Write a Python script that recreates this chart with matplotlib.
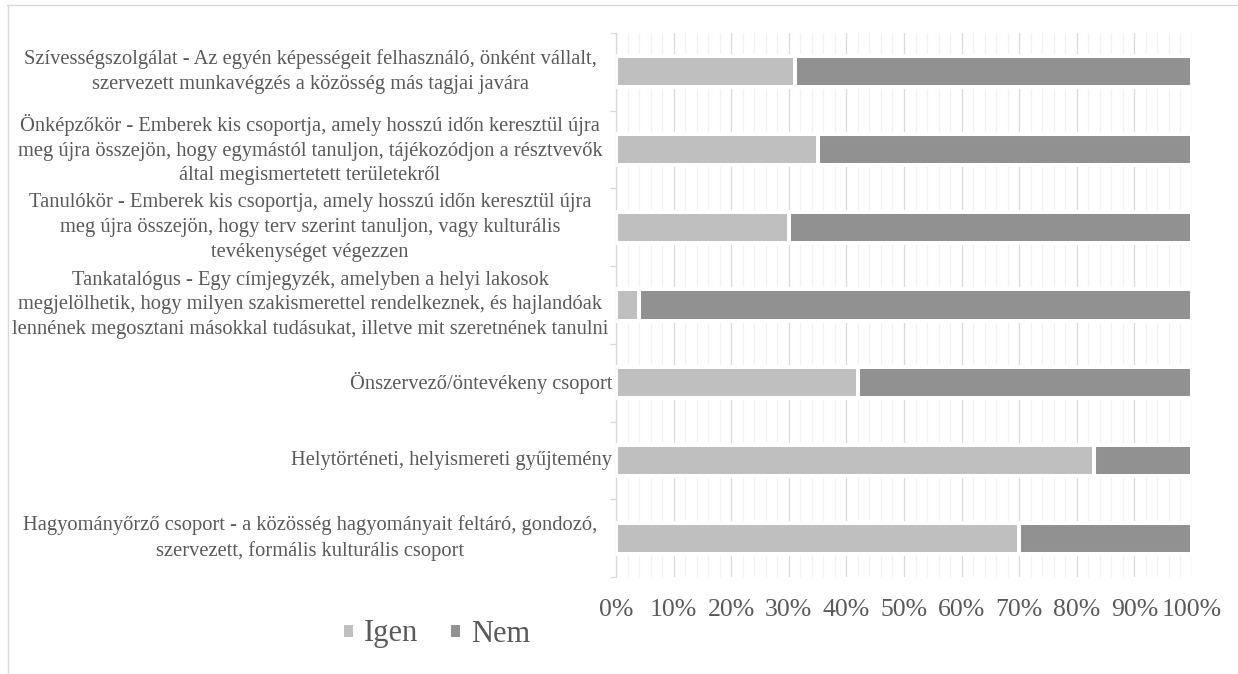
import matplotlib.pyplot as plt
from matplotlib.lines import Line2D
from matplotlib.ticker import MultipleLocator, FuncFormatter
from matplotlib.transforms import blended_transform_factory

plt.rcParams['font.family'] = ['Liberation Serif', 'DejaVu Serif']

# categories, top to bottom
categories = [
    "Szívességszolgálat - Az egyén képességeit felhasználó, önként vállalt,\nszervezett munkavégzés a közösség más tagjai javára",
    "Önképzőkör - Emberek kis csoportja, amely hosszú időn keresztül újra\nmeg újra összejön, hogy egymástól tanuljon, tájékozódjon a résztvevők\náltal megismertetett területekről",
    "Tanulókör - Emberek kis csoportja, amely hosszú időn keresztül újra\nmeg újra összejön, hogy terv szerint tanuljon, vagy kulturális\ntevékenységet végezzen",
    "Tankatalógus - Egy címjegyzék, amelyben a helyi lakosok\nmegjelölhetik, hogy milyen szakismerettel rendelkeznek, és hajlandóak\nlennének megosztani másokkal tudásukat, illetve mit szeretnének tanulni",
    "Önszervező/öntevékeny csoport",
    "Helytörténeti, helyismereti gyűjtemény",
    "Hagyományőrző csoport - a közösség hagyományait feltáró, gondozó,\nszervezett, formális kulturális csoport",
]
igen = [31, 35, 30, 4, 42, 83, 70]
nem = [69, 65, 70, 96, 58, 17, 30]
series_names = ["Igen", "Nem"]

c_igen = '#BFBFBF'
c_nem = '#919191'
txt = '#595959'
grid_major = '#D9D9D9'
grid_minor = '#F2F2F2'

W, H = 1238, 674
fig = plt.figure(figsize=(W / 100, H / 100), dpi=100)
ax = fig.add_axes([616 / W, 1 - 577 / H, 576 / W, 544 / H])

y = list(range(len(categories)))
igen_f = [v / 100 for v in igen]
nem_f = [v / 100 for v in nem]

ax.barh(y, igen_f, height=0.40, color=c_igen, edgecolor='white', linewidth=2.9,
        label=series_names[0], zorder=3)
ax.barh(y, nem_f, left=igen_f, height=0.40, color=c_nem, edgecolor='white',
        linewidth=2.9, label=series_names[1], zorder=3)

ax.set_xlim(0, 1)
ax.set_ylim(len(categories) - 0.5, -0.5)

# gridlines
ax.xaxis.set_major_locator(MultipleLocator(0.1))
ax.xaxis.set_minor_locator(MultipleLocator(0.02))
ax.grid(axis='x', which='minor', color=grid_minor, linewidth=0.9, zorder=0)
ax.grid(axis='x', which='major', color=grid_major, linewidth=0.9, zorder=1)
ax.set_axisbelow(True)
ax.xaxis.set_major_formatter(FuncFormatter(lambda v, p: f"{v * 100:.0f}%"))
ax.tick_params(axis='x', which='both', length=0, labelsize=18.5, labelcolor=txt, pad=16)

# y axis: tick marks at category boundaries, labels drawn as text
ax.set_yticks(y)
ax.set_yticklabels([''] * len(categories))
ax.set_yticks([i - 0.5 for i in range(len(categories) + 1)], minor=True)
ax.tick_params(axis='y', which='major', length=0)
ax.tick_params(axis='y', which='minor', length=4.5, color=grid_major, width=0.9)

# category labels: wrapped ones centred in the label box, single lines right aligned
trans = blended_transform_factory(fig.transFigure, ax.transData)
for i, cat in enumerate(categories):
    if '\n' in cat:
        ax.text(310 / W, i, cat, transform=trans, ha='center', va='center',
                multialignment='center', fontsize=14.8, color=txt, linespacing=1.42)
    else:
        ax.text(612 / W, i, cat, transform=trans, ha='right', va='center',
                fontsize=14.8, color=txt)

for s in ['top', 'right', 'bottom']:
    ax.spines[s].set_visible(False)
ax.spines['left'].set_color(grid_major)
ax.spines['left'].set_linewidth(0.9)

fig.legend(loc='center', bbox_to_anchor=(436 / W, 1 - 634 / H), ncol=2,
           frameon=False, fontsize=22, labelcolor=txt, handlelength=0.42,
           handleheight=0.42, handletextpad=0.3, columnspacing=1.0)

# chart border (top and left)
fig.add_artist(Line2D([7 / W, 1], [1 - 4.5 / H, 1 - 4.5 / H],
                      transform=fig.transFigure, color=grid_major, linewidth=1))
fig.add_artist(Line2D([7.5 / W, 7.5 / W], [0, 1 - 4.5 / H],
                      transform=fig.transFigure, color=grid_major, linewidth=1))

fig.savefig('out.png', dpi=100)
